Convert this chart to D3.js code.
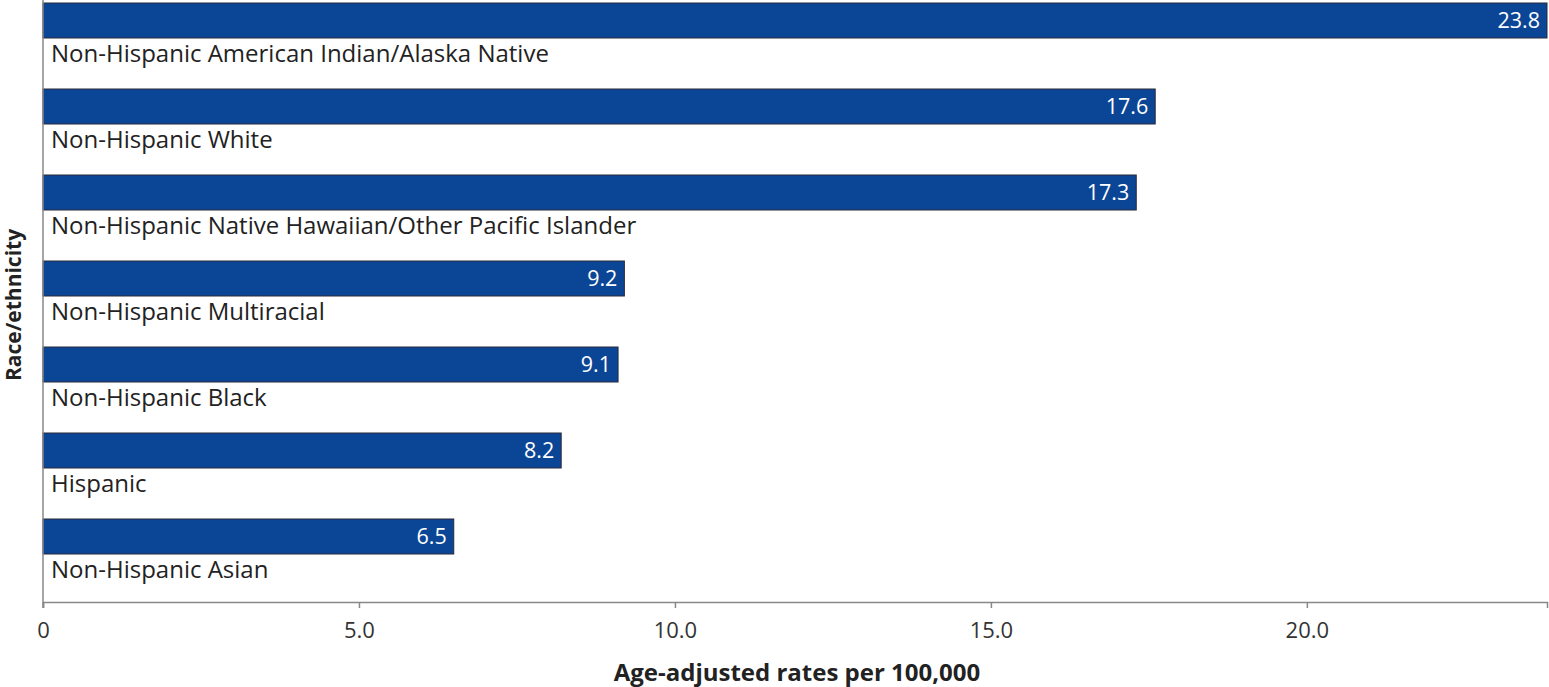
<!DOCTYPE html>
<html><head><meta charset="utf-8">
<script src="https://cdn.jsdelivr.net/npm/d3@7"></script>
<style>
body{margin:0;background:#fff;}
text{font-family:"Open Sans","Noto Sans",sans-serif;}
.tick text{font-size:22px !important;}
</style></head>
<body><svg id="c" width="1549" height="687"></svg>
<script>
const categories = ["Non-Hispanic American Indian/Alaska Native","Non-Hispanic White","Non-Hispanic Native Hawaiian/Other Pacific Islander","Non-Hispanic Multiracial","Non-Hispanic Black","Hispanic","Non-Hispanic Asian"];
const values = [23.8,17.6,17.3,9.2,9.1,8.2,6.5];
const tickValues = [0,5,10,15,20];
const tickLabels = ["0","5.0","10.0","15.0","20.0"];

const svg = d3.select("#c");
const x = d3.scaleLinear().domain([0,23.8]).range([43,1547]);
const y = d3.scaleBand().domain(categories).range([3,605]).paddingInner(0).paddingOuter(0);
const barH = 35;

const g = svg.append("g");
g.selectAll("rect.bar").data(categories).join("rect")
  .attr("x", x(0)).attr("y", d=>y(d))
  .attr("width", (d,i)=>x(values[i])-x(0)).attr("height", barH)
  .attr("fill","#0b4596").attr("stroke","#2a2a3a").attr("stroke-width",1);

g.selectAll("text.val").data(categories).join("text")
  .attr("x",(d,i)=>x(values[i])-7).attr("y",d=>y(d)+barH/2+7.5)
  .attr("text-anchor","end").attr("fill","#fff").style("font-size","21.5px").attr("font-weight",500)
  .text((d,i)=>values[i].toFixed(1));

g.selectAll("text.cat").data(categories).join("text")
  .attr("x",51).attr("y",d=>y(d)+barH+24)
  .attr("fill","#222").style("font-size","24px")
  .text(d=>d);

// axes
const xa = svg.append("g").attr("transform","translate(0,602)")
  .call(d3.axisBottom(x).tickValues(tickValues).tickFormat((d,i)=>tickLabels[i]).tickSizeOuter(0).tickSize(6));
xa.attr("font-size",22);
xa.select(".domain").attr("stroke","#888").attr("stroke-width",1.5);
xa.selectAll(".tick line").attr("stroke","#888").attr("stroke-width",1.5);
xa.selectAll(".tick text").attr("fill","#333").attr("y",15).attr("dy","0.95em");

svg.append("line").attr("x1",43).attr("x2",43).attr("y1",0).attr("y2",608)
  .attr("stroke","#888").attr("stroke-width",1.5);

svg.append("text").attr("x",797).attr("y",681).attr("text-anchor","middle")
  .style("font-size","24px").attr("font-weight",700).attr("fill","#222")
  .text("Age-adjusted rates per 100,000");
svg.append("text").attr("transform","translate(21,305) rotate(-90)").attr("text-anchor","middle")
  .style("font-size","21px").attr("font-weight",700).attr("fill","#222")
  .text("Race/ethnicity");
</script></body></html>
